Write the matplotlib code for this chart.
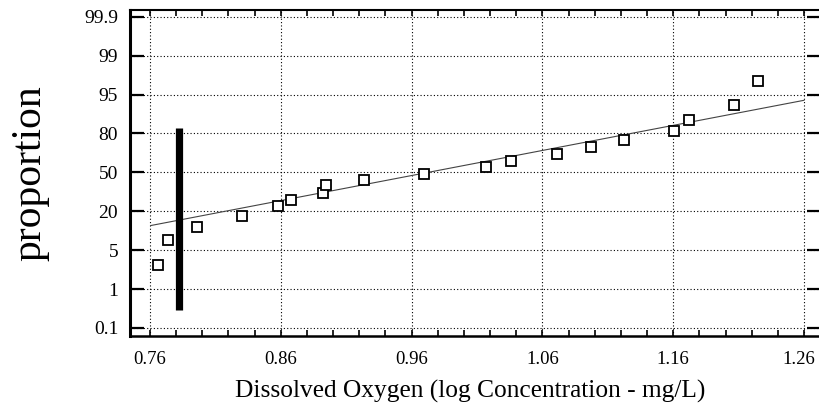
import numpy as np
import matplotlib
matplotlib.use("Agg")
import matplotlib.pyplot as plt
import matplotlib.transforms as mtransforms
from matplotlib.ticker import MultipleLocator, FixedLocator, FixedFormatter

plt.rcParams['font.family'] = ['Liberation Serif', 'DejaVu Serif']

# ---- data ----
x_obs = [0.7663, 0.7740, 0.7957, 0.8303, 0.8576, 0.8678, 0.8920, 0.8946, 0.9236,
         0.9695, 1.0167, 1.0358, 1.0709, 1.0972, 1.1226, 1.1604, 1.1721, 1.2062, 1.2248]
p_obs = [3.5, 8.8, 14.1, 18.1, 23.8, 29.0, 34.3, 40.5, 44.2,
         49.0, 54.3, 58.5, 64.3, 69.5, 74.8, 81.1, 85.3, 91.1, 96.4]
fit_x = [0.7605, 1.26]
fit_p = [14.5, 92.8]
bar_x = 0.7819
bar_p = [0.51, 82.0]

y_tick_vals = [0.1, 1, 5, 20, 50, 80, 95, 99, 99.9]
y_tick_labels = ['0.1', '1', '5', '20', '50', '80', '95', '99', '99.9']
x_tick_vals = [0.76, 0.86, 0.96, 1.06, 1.16, 1.26]
x_tick_labels = ['0.76', '0.86', '0.96', '1.06', '1.16', '1.26']

T = np.array(y_tick_vals, float)
I = np.arange(len(T), dtype=float)

def fwd(p):
    p = np.asarray(p, float)
    out = np.interp(p, T, I)
    out = np.where(p < T[0], (p - T[0]) / (T[1] - T[0]), out)
    out = np.where(p > T[-1], I[-1] + (p - T[-1]) / (T[-1] - T[-2]), out)
    return out

def inv(i):
    i = np.asarray(i, float)
    out = np.interp(i, I, T)
    out = np.where(i < 0, T[0] + i * (T[1] - T[0]), out)
    out = np.where(i > I[-1], T[-1] + (i - I[-1]) * (T[-1] - T[-2]), out)
    return out

fig = plt.figure(figsize=(8.2, 4.16), dpi=100)
ax = fig.add_axes([130/820, 1-336/416, 691/820, 326/416])
ax.set_yscale('function', functions=(fwd, inv))
ax.set_xlim(0.7447, 1.273)
ax.set_ylim(inv(-0.206), inv(8.175))

ax.grid(True, which='major', color='black', linestyle=(0, (1, 2)), linewidth=0.8)

ax.plot(fit_x, fit_p, color='#444444', linewidth=0.8, zorder=3)
ax.vlines(bar_x, bar_p[0], bar_p[1], colors='black', linewidth=5.2, capstyle='butt', zorder=4)
ax.plot(x_obs, p_obs, linestyle='none', marker='s', markersize=7.5,
        markerfacecolor='white', markeredgecolor='black', markeredgewidth=1.3, zorder=5)

ax.yaxis.set_major_locator(FixedLocator(y_tick_vals))
ax.yaxis.set_major_formatter(FixedFormatter(y_tick_labels))
ax.yaxis.set_minor_locator(FixedLocator([]))
ax.xaxis.set_major_locator(FixedLocator(x_tick_vals))
ax.xaxis.set_major_formatter(FixedFormatter(x_tick_labels))
ax.xaxis.set_minor_locator(MultipleLocator(0.02))

ax.tick_params(axis='y', which='major', direction='in', length=10, width=1.6,
               left=True, right=True, labelsize=14, pad=8.5)
ax.tick_params(axis='x', which='both', direction='in', length=4, width=1.2,
               top=True, bottom=True, labelsize=13.5, pad=11)

ax.spines['left'].set_linewidth(2.2)
ax.spines['bottom'].set_linewidth(1.8)
ax.spines['top'].set_linewidth(1.5)
ax.spines['right'].set_linewidth(1.5)

ax.set_xlabel('Dissolved Oxygen (log Concentration - mg/L)', fontsize=18.3)
ax.xaxis.set_label_coords(0.492, -0.135)
ax.xaxis.label.set_va('top')
ax.set_ylabel('proportion', fontsize=30)
ax.yaxis.set_label_coords(-0.116, 0.5)

fig.canvas.draw()
last = ax.xaxis.get_majorticklabels()[-1]
last.set_transform(last.get_transform() +
                   mtransforms.ScaledTranslation(-5/100, 0, fig.dpi_scale_trans))

fig.savefig('out.png', dpi=100)
